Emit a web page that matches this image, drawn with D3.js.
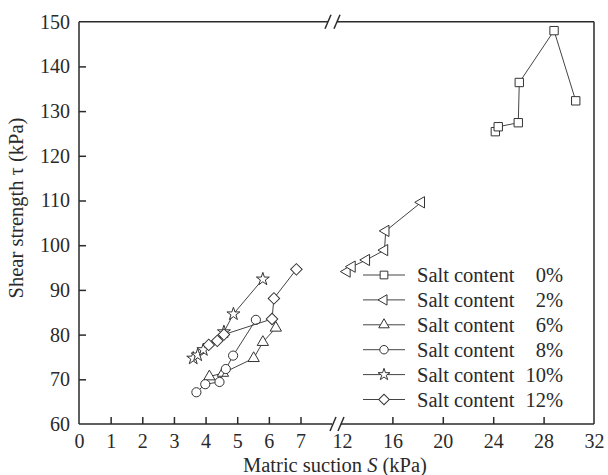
<!DOCTYPE html>
<html>
<head>
<meta charset="utf-8">
<script src="https://cdn.jsdelivr.net/npm/d3@7"></script>
<style>
body{margin:0;background:#fff;}
</style>
</head>
<body>
<svg id="viz" width="608" height="475"></svg>
<script>
// series (x = matric suction kPa, y = shear strength kPa)
var s0x = [24.17, 24.4, 25.99, 26.07, 28.83, 30.55];
var s0y = [125.4, 126.5, 127.4, 136.4, 148.0, 132.3];
var s2x = [12.39, 12.79, 13.93, 15.37, 15.47, 18.29];
var s2y = [94.1, 95.2, 96.7, 98.9, 103.2, 109.6];
var s6x = [4.12, 4.55, 5.52, 5.81, 6.22];
var s6y = [70.6, 71.4, 74.7, 78.3, 81.5];
var s8x = [3.71, 3.99, 4.44, 4.64, 4.87, 5.59];
var s8y = [67.1, 68.9, 69.4, 72.3, 75.3, 83.3];
var s10x = [3.61, 3.75, 3.93, 4.58, 4.88, 5.81];
var s10y = [74.7, 75.4, 76.6, 80.6, 84.6, 92.4];
var s12x = [4.1, 4.37, 4.58, 6.1, 6.16, 6.87];
var s12y = [77.7, 78.6, 80.0, 83.5, 88.1, 94.6];

var labels = ["0%", "2%", "6%", "8%", "10%", "12%"];
var leftTicks = [0, 1, 2, 3, 4, 5, 6, 7];
var rightTicks = [12, 16, 20, 24, 28, 32];
var yTicks = [60, 70, 80, 90, 100, 110, 120, 130, 140, 150];

var FONT = "Liberation Serif";
var svg = d3.select("#viz").style("font-family", FONT);
var ink = "#2a2a2a";

var L = 79, R = 594, T = 21.7, B = 424;

var xL = d3.scaleLinear().domain([0, 7]).range([L, 300.5]);
var xR = d3.scaleLinear().domain([12, 32]).range([342, R]);
var y = d3.scaleLinear().domain([60, 150]).range([B, T]);
var x = function(v){ return v < 10 ? xL(v) : xR(v); };

// frame with a break
var gapA = 332, gapB = 341;
var frame = [
    [[L, T], [L, B]],
    [[L, B], [gapA, B]], [[gapB, B], [R, B]],
    [[L, T], [gapA - 4, T]], [[gapB - 4, T], [R, T]],
    [[R, T], [R, B]]
];
svg.selectAll(".frame").data(frame).enter().append("line")
    .attr("class", "frame")
    .attr("x1", function(d){ return d[0][0]; })
    .attr("y1", function(d){ return d[0][1]; })
    .attr("x2", function(d){ return d[1][0]; })
    .attr("y2", function(d){ return d[1][1]; })
    .attr("stroke", ink).attr("stroke-width", 1.5);

var slashes = [[gapA + 1, B], [gapB, B], [gapA - 4, T], [gapB - 4, T]];
svg.selectAll(".slash").data(slashes).enter().append("line")
    .attr("class", "slash")
    .attr("x1", function(d){ return d[0] - 3; })
    .attr("y1", function(d){ return d[1] + 7; })
    .attr("x2", function(d){ return d[0] + 3; })
    .attr("y2", function(d){ return d[1] - 7; })
    .attr("stroke", ink).attr("stroke-width", 1.5);

// axes
var fmt = d3.format("d");
var gxL = svg.append("g").attr("transform", "translate(0," + B + ")")
    .call(d3.axisBottom(xL).tickValues(leftTicks).tickFormat(fmt).tickSizeInner(-7).tickSizeOuter(0).tickPadding(10));
var gxR = svg.append("g").attr("transform", "translate(0," + B + ")")
    .call(d3.axisBottom(xR).tickValues(rightTicks).tickFormat(fmt).tickSizeInner(-7).tickSizeOuter(0).tickPadding(10));
var gy = svg.append("g").attr("transform", "translate(" + L + ",0)")
    .call(d3.axisLeft(y).tickValues(yTicks).tickFormat(fmt).tickSizeInner(-7).tickSizeOuter(0).tickPadding(9));

[gxL, gxR, gy].forEach(function(g){
    g.attr("font-family", null).attr("font-size", null);
    g.select(".domain").remove();
    g.selectAll("line").attr("stroke", ink).attr("stroke-width", 1.5);
    g.selectAll("text").style("font-size", "20px")
        .style("font-family", FONT).attr("fill", ink);
});
gxR.selectAll(".tick").filter(function(d){ return d === 12 || d === 32; }).select("line").remove();
gxL.selectAll(".tick").filter(function(d){ return d === 0; }).select("line").remove();
gy.selectAll(".tick").filter(function(d){ return d === 60 || d === 150; }).select("line").remove();

// titles
svg.append("text")
    .attr("transform", "translate(23," + 208 + ") rotate(-90)")
    .attr("text-anchor", "middle")
    .style("font-size", "20.5px").style("font-family", FONT).attr("fill", ink)
    .text("Shear strength \u03c4 (kPa)");
var xt = svg.append("text").attr("x", 335).attr("y", 472)
    .attr("text-anchor", "middle")
    .style("font-size", "20.5px").style("font-family", FONT).attr("fill", ink);
xt.append("tspan").text("Matric suction ");
xt.append("tspan").attr("font-style", "italic").text("S");
xt.append("tspan").text(" (kPa)");

// series
var series = [
    {xs: s0x, ys: s0y, sym: d3.symbolSquare, size: 70, rot: 0},
    {xs: s2x, ys: s2y, sym: d3.symbolTriangle, size: 55, rot: -90},
    {xs: s6x, ys: s6y, sym: d3.symbolTriangle, size: 55, rot: 0},
    {xs: s8x, ys: s8y, sym: d3.symbolCircle, size: 66, rot: 0},
    {xs: s10x, ys: s10y, sym: d3.symbolStar, size: 52, rot: 0},
    {xs: s12x, ys: s12y, sym: d3.symbolSquare, size: 66, rot: 45}
];

var line = d3.line()
    .x(function(d){ return x(d[0]); })
    .y(function(d){ return y(d[1]); });

series.forEach(function(s, i){
    var pts = s.xs.map(function(v, j){ return [v, s.ys[j]]; });
    var g = svg.append("g").attr("class", "series s" + i);
    g.append("path").datum(pts)
        .attr("d", line)
        .attr("fill", "none").attr("stroke", "#444").attr("stroke-width", 1);
    g.selectAll("path.mk").data(pts).enter().append("path")
        .attr("class", "mk")
        .attr("transform", function(d){
            return "translate(" + x(d[0]) + "," + y(d[1]) + ") rotate(" + s.rot + ")";
        })
        .attr("d", d3.symbol().type(s.sym).size(s.size))
        .attr("fill", "#fff").attr("stroke", "#333").attr("stroke-width", 1);
});

// legend
var lg = svg.append("g").attr("class", "legend");
var rowY = function(i){ return 275 + i * 24.9; };
series.forEach(function(s, i){
    var yy = rowY(i);
    lg.append("line").attr("x1", 363).attr("x2", 405).attr("y1", yy).attr("y2", yy)
        .attr("stroke", "#444").attr("stroke-width", 1);
    lg.append("path")
        .attr("transform", "translate(384," + yy + ") rotate(" + s.rot + ")")
        .attr("d", d3.symbol().type(s.sym).size(s.size * 0.85))
        .attr("fill", "#fff").attr("stroke", "#333").attr("stroke-width", 1);
    lg.append("text").attr("x", 417).attr("y", yy + 7)
        .style("font-size", "20.5px").style("font-family", FONT).attr("fill", ink)
        .text("Salt content");
    lg.append("text").attr("x", 563).attr("y", yy + 7)
        .style("font-size", "20.5px").style("font-family", FONT).attr("fill", ink)
        .attr("text-anchor", "end").text(labels[i]);
});
</script>
</body>
</html>
